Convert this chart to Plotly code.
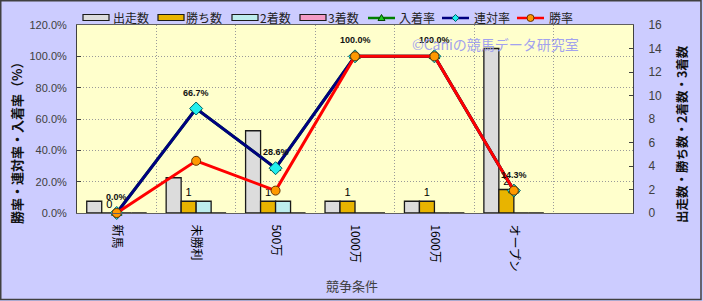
import plotly.graph_objects as go

# ---- data -------------------------------------------------------------
categories = ["新馬", "未勝利", "500万", "1000万", "1600万", "オープン", " "]
starts = [1, 3, 7, 1, 1, 14]          # 出走数
wins = [0, 1, 1, 1, 1, 2]             # 勝ち数
seconds = [0, 1, 1, 0, 0, 0]          # 2着数
thirds = [0, 0, 0, 0, 0, 0]           # 3着数
win_rate = [0.0, 33.3, 14.3, 100.0, 100.0, 14.3]      # 勝率
quinella_rate = [0.0, 66.7, 28.6, 100.0, 100.0, 14.3]  # 連対率
place_rate = [0.0, 66.7, 28.6, 100.0, 100.0, 14.3]     # 入着率

cats = categories[:len(starts)]

# ---- geometry helpers -------------------------------------------------
W, H = 703, 301
ML, MR, MT, MB = 77, 70, 25, 88
PW, PH = W - ML - MR, H - MT - MB


def px_x(x):
    return (x - ML) / PW


def px_y(y):
    return (H - MB - y) / PH


JP = "Noto Sans CJK JP"
NUM = "Liberation Sans"

fig = go.Figure()

# count bars (right-hand axis)
bar_specs = [
    ("出走数", starts, "#DCDCDC"),
    ("勝ち数", wins, "#E8B400"),
    ("2着数", seconds, "#BDEDED"),
    ("3着数", thirds, "#F49AC4"),
]
for name, vals, col in bar_specs:
    kw = {}
    if name == "勝ち数":
        lab_font = dict(family=NUM, size=11, color="#000000")
        kw = dict(text=[str(v) for v in vals], textposition="outside",
                  textfont=lab_font, outsidetextfont=lab_font,
                  cliponaxis=False)
    fig.add_trace(go.Bar(
        x=cats, y=vals, name=name, yaxis="y", showlegend=False,
        marker=dict(color=col, line=dict(color="#1a1a1a", width=1.3)),
        **kw,
    ))

# rate lines (left-hand axis, drawn over the bars)
line_specs = [
    ("入着率", place_rate, "#008000", "triangle-up", "#22CC22", "#004400", 9),
    ("連対率", quinella_rate, "#000080", "diamond", "#22EEEE", "#006060", 10),
    ("勝率", win_rate, "#FF0000", "circle", "#FF9900", "#663300", 9),
]
for name, vals, lc, sym, fc, oc, sz in line_specs:
    fig.add_trace(go.Scatter(
        x=cats, y=vals, name=name, mode="lines+markers", yaxis="y2",
        showlegend=False,
        line=dict(color=lc, width=3),
        marker=dict(symbol=sym, size=sz, color=fc, line=dict(color=oc, width=1)),
        cliponaxis=False,
    ))

# rate labels above the 連対率 points
annotations = []
for c, v in zip(cats, quinella_rate):
    annotations.append(dict(
        x=c, y=v, xref="x", yref="y2", text=f"{v:.1f}%", showarrow=False,
        yshift=16, font=dict(family=NUM, size=9, color="#111111", weight="bold"),
    ))


def note(x, y, text, font, **kw):
    d = dict(x=px_x(x), y=px_y(y), xref="paper", yref="paper", text=text,
             showarrow=False, xanchor="center", yanchor="middle", font=font)
    d.update(kw)
    return d


annotations += [
    note(16, 140, "勝率・連対率・入着率（%）",
         dict(family=JP, size=13, color="#111111", weight="bold"), textangle=-90),
    note(681, 134, "出走数・勝ち数・2着数・3着数",
         dict(family=JP, size=12.5, color="#111111", weight="bold"), textangle=-90),
    note(352, 285, "競争条件", dict(family=JP, size=13, color="#404040")),
    note(495, 44, "©Caniの競馬データ研究室", dict(family=JP, size=14, color="#A2A2EE")),
]

shapes = [dict(type="rect", xref="paper", yref="paper",
               x0=px_x(0.75), x1=px_x(701), y0=px_y(0.75), y1=px_y(299.5),
               line=dict(color="#404040", width=1.5), fillcolor="rgba(0,0,0,0)",
               layer="above")]

# ---- legend row along the top -----------------------------------------
LEG_Y = 17.5
leg_font = dict(family=JP, size=12, color="#222222")
bar_keys = [(83, 111), (158, 184), (232, 258), (300, 326)]
for (x0, tx), (name, _, col) in zip(bar_keys, bar_specs):
    shapes.append(dict(type="rect", xref="paper", yref="paper",
                       x0=px_x(x0), x1=px_x(x0 + 26),
                       y0=px_y(LEG_Y - 3), y1=px_y(LEG_Y + 3),
                       line=dict(color="#1a1a1a", width=1.2), fillcolor=col))
    annotations.append(note(tx, LEG_Y, name, leg_font, xanchor="left"))

line_keys = [(368, 397), (442, 472), (517, 547)]
for (x0, tx), (name, _, lc, sym, fc, oc, _sz) in zip(line_keys, line_specs):
    shapes.append(dict(type="line", xref="paper", yref="paper",
                       x0=px_x(x0), x1=px_x(x0 + 27),
                       y0=px_y(LEG_Y + 0.5), y1=px_y(LEG_Y + 0.5),
                       line=dict(color=lc, width=2.5)))
    cx, cy = x0 + 13.5, LEG_Y + 0.5
    if sym == "circle":
        shapes.append(dict(type="circle", xref="paper", yref="paper",
                           x0=px_x(cx - 3.5), x1=px_x(cx + 3.5),
                           y0=px_y(cy - 3.5), y1=px_y(cy + 3.5),
                           line=dict(color=oc, width=1), fillcolor=fc))
    else:
        if sym == "diamond":
            pts = [(cx, cy - 3.5), (cx + 3.5, cy), (cx, cy + 3.5), (cx - 3.5, cy)]
        else:
            pts = [(cx, cy - 3.5), (cx + 3.5, cy + 2.5), (cx - 3.5, cy + 2.5)]
        path = "M" + " L".join(f"{px_x(a):.5f},{px_y(b):.5f}" for a, b in pts) + " Z"
        shapes.append(dict(type="path", xref="paper", yref="paper", path=path,
                           line=dict(color=oc, width=1), fillcolor=fc))
    annotations.append(note(tx, LEG_Y, name, leg_font, xanchor="left"))

GRID = dict(showgrid=True, gridcolor="#9A9A9A", griddash="1px,2px", gridwidth=1)

fig.update_layout(
    width=W, height=H,
    margin=dict(l=ML, r=MR, t=MT, b=MB, pad=0, autoexpand=False),
    paper_bgcolor="#CCCCFF",
    plot_bgcolor="#FFFFCC",
    barmode="group", bargap=0.245, bargroupgap=0,
    font=dict(family=JP, size=12, color="#222222"),
    showlegend=False,
    xaxis=dict(
        type="category", categoryorder="array", categoryarray=categories,
        range=[-0.5, len(categories) - 0.5], tickson="boundaries",
        **GRID,
        showline=True, linecolor="#606060", linewidth=1, mirror=True,
        ticks="", tickangle=90, ticklabelstandoff=8,
        tickfont=dict(family=JP, size=12, color="#000000"),
        zeroline=False,
    ),
    yaxis=dict(
        side="right", range=[0, 16], dtick=2,
        showgrid=False, showline=True, linecolor="#404040", linewidth=1,
        ticks="inside", ticklen=4, tickcolor="#404040",
        ticklabelstandoff=12,
        tickfont=dict(family=NUM, size=12, color="#404040"),
        zeroline=False,
    ),
    yaxis2=dict(
        overlaying="y", side="left",
        range=[0, 120], dtick=20, tickformat=".1f", ticksuffix="%",
        **GRID,
        showline=True, linecolor="#404040", linewidth=1,
        ticks="inside", ticklen=4, tickcolor="#404040",
        ticklabelstandoff=7,
        tickfont=dict(family=NUM, size=11, color="#404040"),
        zeroline=False,
    ),
    annotations=annotations,
    shapes=shapes,
)

fig.write_html("out.html")
